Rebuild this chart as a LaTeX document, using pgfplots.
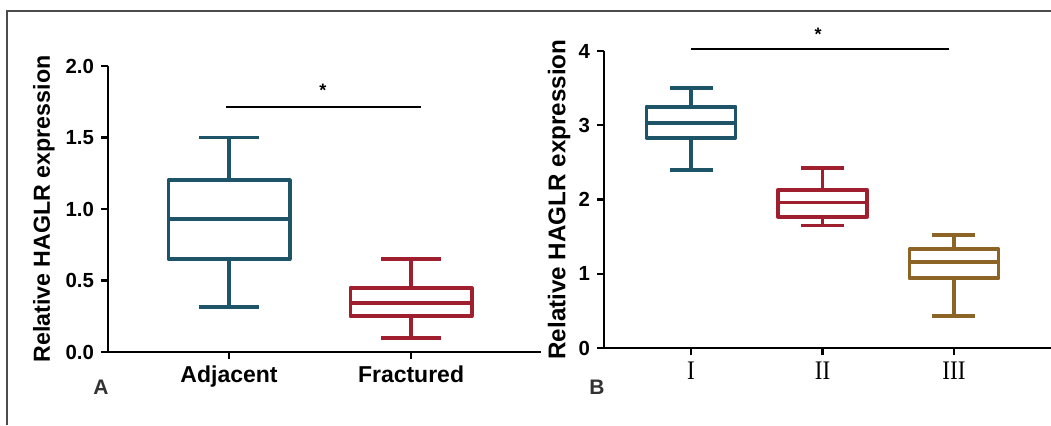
\documentclass[border=0pt]{standalone}
\usepackage{pgfplots}
\pgfplotsset{compat=1.18}
\usepgfplotslibrary{statistics}
\usepackage{graphicx}
\usepackage{fontspec}
\setmainfont{Liberation Sans}
\newfontfamily\romanfont{Liberation Serif}

\definecolor{cTeal}{HTML}{1D5468}
\definecolor{cRed}{HTML}{A01F2E}
\definecolor{cBrown}{HTML}{8C6426}

\newcommand{\rn}[1]{\scalebox{0.86}[1]{#1}}

\pgfplotsset{
  panel/.style={
    scale only axis,
    axis x line*=bottom,
    axis y line*=left,
    axis line style={line width=1.2pt, black},
    tick align=outside,
    major tick length=3.5pt,
    tick style={line width=1.1pt, black},
    clip=false,
    boxplot/draw direction=y,
    /pgf/number format/assume math mode=true,
    yticklabel style={font=\bfseries\fontsize{10.2}{12}\selectfont},
    ylabel style={at={(axis description cs:0,0.5)}, anchor=center},
  },
  bx/.style={solid, line width=1.95pt, line join=round, line cap=butt, fill=none, mark=none},
}

\begin{document}
\begin{tikzpicture}
\path[use as bounding box] (0,0) rectangle (525.5pt,212.5pt);
\draw[gray!60!black, line width=0.6pt] (525.5pt,207pt) -- (3.5pt,207pt) -- (3.5pt,0pt);

% panel A
\begin{axis}[
  panel,
  at={(54pt,36.5pt)}, anchor=south west,
  width=216.5pt, height=143pt,
  xmin=0.335, xmax=2.714,
  ymin=0, ymax=2,
  ytick={0,0.5,1,1.5,2},
  yticklabel style={/pgf/number format/fixed, /pgf/number format/fixed zerofill, /pgf/number format/precision=1},
  xtick={1,2},
  xticklabels={Adjacent,Fractured},
  xticklabel style={font=\bfseries\fontsize{11.5}{13}\selectfont},
  ylabel={Relative HAGLR expression},
  ylabel style={font=\bfseries\fontsize{11.6}{13}\selectfont, yshift=32pt},
]
\addplot[bx, draw=cTeal, boxplot prepared={draw position=1,
  lower whisker=0.315, lower quartile=0.65, median=0.93,
  upper quartile=1.2, upper whisker=1.5,
  box extend=0.665, whisker extend=0.325}] coordinates {};
\addplot[bx, draw=cRed, boxplot prepared={draw position=2,
  lower whisker=0.10, lower quartile=0.25, median=0.34,
  upper quartile=0.45, upper whisker=0.65,
  box extend=0.665, whisker extend=0.325}] coordinates {};
\addplot[black, line width=1pt, mark=none] coordinates {(0.984,1.71) (2.055,1.71)};
\node[font=\bfseries\small] at (axis cs:1.516,1.83) {*};
\end{axis}

% panel B
\begin{axis}[
  panel,
  at={(302pt,38.5pt)}, anchor=south west,
  width=223.5pt, height=148.5pt,
  xmin=0.338, xmax=3.738,
  ymin=0, ymax=4,
  ytick={0,1,2,3,4},
  xtick={1,2,3},
  xticklabels={\rn{I},\rn{II},\rn{III}},
  xticklabel style={font=\romanfont\fontsize{13.4}{15}\selectfont},
  ylabel={Relative HAGLR expression},
  ylabel style={font=\bfseries\fontsize{12.1}{14}\selectfont, yshift=22.5pt},
]
\addplot[bx, draw=cTeal, boxplot prepared={draw position=1,
  lower whisker=2.40, lower quartile=2.83, median=3.03,
  upper quartile=3.25, upper whisker=3.50,
  box extend=0.677, whisker extend=0.327}] coordinates {};
\addplot[bx, draw=cRed, boxplot prepared={draw position=2,
  lower whisker=1.65, lower quartile=1.77, median=1.96,
  upper quartile=2.13, upper whisker=2.42,
  box extend=0.677, whisker extend=0.327}] coordinates {};
\addplot[bx, draw=cBrown, boxplot prepared={draw position=3,
  lower whisker=0.43, lower quartile=0.94, median=1.16,
  upper quartile=1.33, upper whisker=1.52,
  box extend=0.677, whisker extend=0.327}] coordinates {};
\addplot[black, line width=1pt, mark=none] coordinates {(1.0,4.03) (2.96,4.03)};
\node[font=\bfseries\small] at (axis cs:1.966,4.22) {*};
\end{axis}

\node[font=\bfseries\fontsize{10.5}{12}\selectfont, text=black!80] at (50.5pt,19pt) {A};
\node[font=\bfseries\fontsize{10.5}{12}\selectfont, text=black!80] at (298.5pt,18.75pt) {B};
\end{tikzpicture}
\end{document}
